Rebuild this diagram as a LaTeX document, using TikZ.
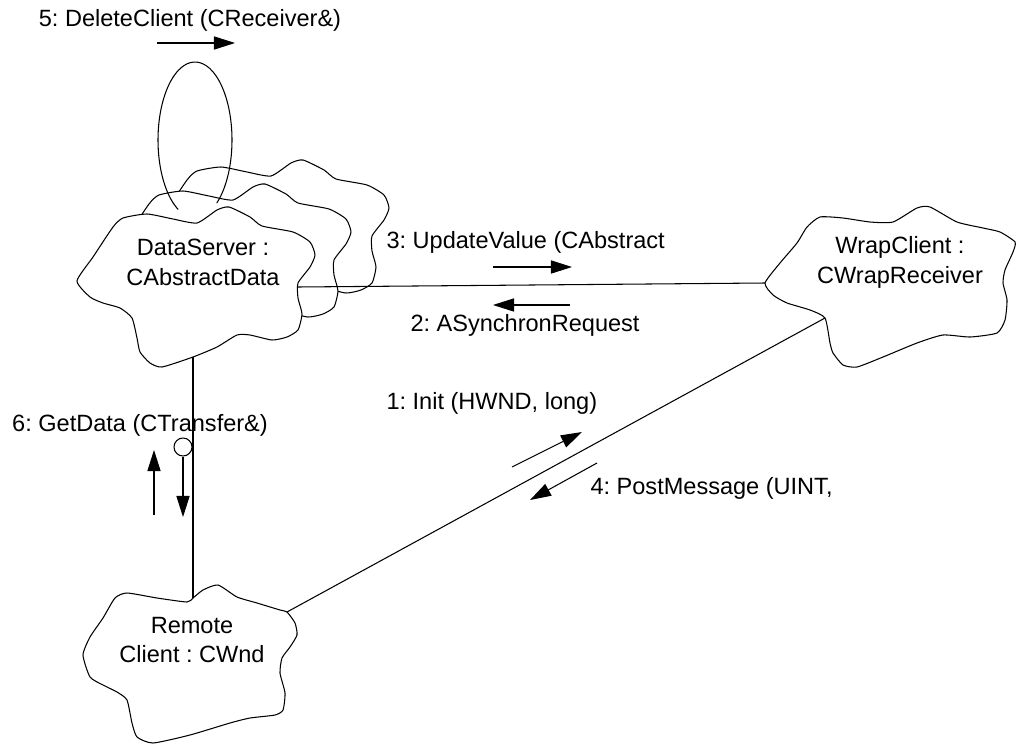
\documentclass[tikz,border=0pt]{standalone}
\usepackage{fontspec}
\setmainfont{Liberation Sans}
\usetikzlibrary{arrows.meta}
\frenchspacing

\begin{document}
\begin{tikzpicture}[x=0.02cm,y=-0.02cm,line width=0.6pt,
		cloud/.style={draw=black,fill=white,line width=0.6pt},
		msg/.style={-{Triangle[length=12pt,width=7.5pt]}},
		lbl/.style={inner sep=0pt,font=\fontsize{13.4}{17}\selectfont},
		obj/.style={lbl,align=center}]
			\useasboundingbox (0,0) rectangle (1017,747);
			%Attachment points
			\coordinate (ds-e) at (298,287);
			\coordinate (ds-s) at (193,357);
			\coordinate (wc-w) at (765,283);
			\coordinate (wc-sw) at (825,318);
			\coordinate (rc-n) at (193,598);
			\coordinate (rc-ne) at (287,612);
			%DataServer stack (two copies behind)
			\foreach \dx/\dy in {74/-47,36/-23,0/0}
			\path[cloud,shift={(\dx,\dy)}] plot [smooth cycle,tension=0.35] coordinates {(77,281) (93,257) (113,227) (123,218) (147,214) (173,219) (197,223) (217,210) (229,207) (250,217) (262,226) (293,232) (310,242) (315,255) (310,267) (298,283) (298,298) (302,314) (298,330) (287,337) (272,340) (250,335) (237,335) (217,347) (193,357) (162,367) (150,363) (140,352) (137,338) (132,318) (120,308) (103,303) (90,297)};
			%Self loop
			\draw plot [domain=117:414,samples=60,smooth] ({195+37*cos(\x)},{140+78*sin(\x)});
			%WrapClient
			\path[cloud] plot [smooth cycle,tension=0.35] coordinates {(765,283) (780,263) (797,243) (807,227) (820,217) (843,218) (870,222) (893,222) (917,208) (930,207) (957,222) (983,228) (1000,232) (1015,242) (1013,252) (1005,270) (1003,283) (1007,300) (1005,320) (997,333) (970,337) (943,335) (917,343) (883,357) (857,367) (843,365) (833,353) (830,343) (825,318) (810,310) (787,303) (773,295)};
			%Remote client
			\path[cloud] plot [smooth cycle,tension=0.35] coordinates {(83,655) (90,637) (103,618) (115,598) (127,593) (157,598) (187,602) (193,598) (203,590) (218,585) (237,597) (257,603) (280,610) (287,612) (295,623) (297,635) (290,647) (282,658) (280,673) (285,693) (283,710) (275,715) (250,718) (230,723) (190,735) (153,743) (137,737) (132,723) (127,700) (117,692) (103,685) (90,677)};
			%Object names
			\node[obj] (ds) at (203,262) {DataServer :\\CAbstractData};
			\node[obj] (wc) at (900,262) {WrapClient :\\CWrapReceiver};
			\node[obj] (rc) at (192,640) {Remote\\Client : CWnd};
			%Links
			\draw (ds-e) -- (wc-w);
			\draw (wc-sw) -- (rc-ne);
			\draw (ds-s) -- (rc-n);
			%Messages
			\coordinate (m5a) at (157,43);  \coordinate (m5b) at (235,43);
			\coordinate (m3a) at (493,267); \coordinate (m3b) at (572,267);
			\coordinate (m2a) at (570,305); \coordinate (m2b) at (493,305);
			\coordinate (m1a) at (512,467); \coordinate (m1b) at (582,432);
			\coordinate (m4a) at (597,463); \coordinate (m4b) at (530,500);
			\coordinate (m6a) at (154,515); \coordinate (m6b) at (154,450);
			\coordinate (m6c) at (183,517);
			\draw[msg] (m5a) -- (m5b);
			\draw[msg] (m3a) -- (m3b);
			\draw[msg] (m2a) -- (m2b);
			\draw[msg] (m1a) -- (m1b);
			\draw[msg] (m4a) -- (m4b);
			\draw[msg] (m6a) -- (m6b);
			\node[draw,circle,inner sep=0pt,minimum size=0.36cm,fill=white] (ret) at (183,447) {};
			\draw[msg] (ret.south) -- (m6c);
			\node[lbl] (l5) at (190,20) {5: DeleteClient (CReceiver\&)};
			\node[lbl,anchor=west] (l3) at (386,242) {3: UpdateValue (CAbstract};
			\node[lbl,anchor=west] (l2) at (410,325) {2: ASynchronRequest};
			\node[lbl,anchor=west] (l1) at (386,403) {1: Init (HWND, long)};
			\node[lbl,anchor=west] (l4) at (590,488) {4: PostMessage (UINT,};
			\node[lbl] (l6) at (140,425) {6: GetData (CTransfer\&)};
		\end{tikzpicture}
\end{document}
